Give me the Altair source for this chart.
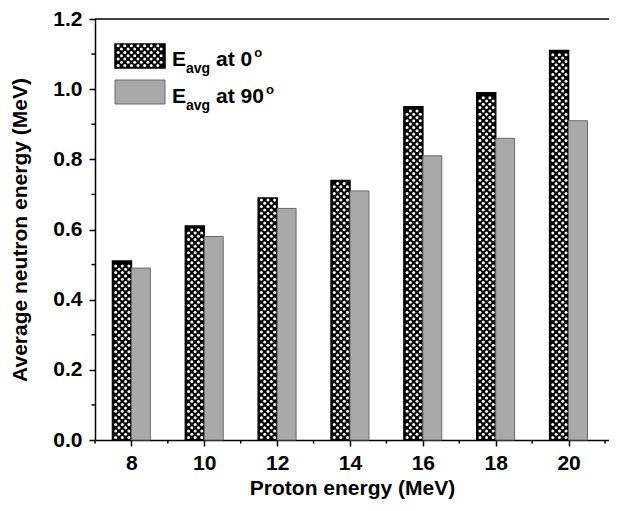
import altair as alt
import numpy as np
import pandas as pd

# ---- data ----
energies = [8, 10, 12, 14, 16, 18, 20]
eavg_0 = [0.51, 0.61, 0.69, 0.74, 0.95, 0.99, 1.11]
eavg_90 = [0.49, 0.58, 0.66, 0.71, 0.81, 0.86, 0.91]
x_major_ticks = [8, 10, 12, 14, 16, 18, 20]
x_minor_ticks = [7, 9, 11, 13, 15, 17, 19, 21]
y_major_ticks = [0.0, 0.2, 0.4, 0.6, 0.8, 1.0, 1.2]
y_minor_ticks = [0.1, 0.3, 0.5, 0.7, 0.9, 1.1]
legend_labels = ["0", "90"]

# ---- layout ----
X_DOMAIN = [7.0, 21.11]
Y_DOMAIN = [0.0, 1.2]
W, H = 514, 421
PX_X = W / (X_DOMAIN[1] - X_DOMAIN[0])
PX_Y = H / (Y_DOMAIN[1] - Y_DOMAIN[0])
BAR_W = 0.52
FONT = "Liberation Sans"

bars0 = pd.DataFrame({"e": energies, "v": eavg_0})
bars0["x0"] = bars0["e"] - BAR_W
bars0["x1"] = bars0["e"]
bars0["y0"] = 0.0
bars90 = pd.DataFrame({"e": energies, "v": eavg_90})
bars90["x0"] = bars90["e"]
bars90["x1"] = bars90["e"] + BAR_W
bars90["y0"] = 0.0


def hatch_holes(x0, x1, y0, y1):
    """White holes of a cross-hatch texture inside a rectangle (data units)."""
    px_step_x, px_step_y = 6.6, 3.3
    wpx = (x1 - x0) * PX_X
    hpx = (y1 - y0) * PX_Y
    xs, ys = [], []
    row = 0
    ypx = 2.4
    while ypx < hpx - 1.8:
        start = 3.2 if row % 2 == 0 else 6.5
        xpx = start
        while xpx < wpx - 1.8:
            xs.append(x0 + xpx / PX_X)
            ys.append(y0 + ypx / PX_Y)
            xpx += px_step_x
        ypx += px_step_y
        row += 1
    return xs, ys


def lx(px):
    return X_DOMAIN[0] + px / PX_X


def ly(py):
    return Y_DOMAIN[1] - py / PX_Y


leg0 = pd.DataFrame({"x0": [lx(20)], "x1": [lx(70)], "y0": [ly(49)], "v": [ly(25)]})
leg90 = pd.DataFrame({"x0": [lx(20)], "x1": [lx(70)], "y0": [ly(85)], "v": [ly(61)]})

hx, hy = [], []
for df in (bars0, leg0):
    for _, r in df.iterrows():
        xs, ys = hatch_holes(r["x0"], r["x1"], r["y0"], r["v"])
        hx += xs
        hy += ys
holes = pd.DataFrame({"hx": hx, "hy": hy})

xscale = alt.Scale(domain=X_DOMAIN, nice=False, zero=False)
yscale = alt.Scale(domain=Y_DOMAIN, nice=False, zero=False)

x_axis = alt.Axis(
    values=x_major_ticks,
    format="d",
    tickSize=6,
    title="Proton energy (MeV)",
    labelFlush=False,
    labelOverlap=False,
    labelPadding=6,
    titlePadding=4,
)
y_axis = alt.Axis(
    values=y_major_ticks,
    format=".1f",
    tickSize=6,
    title="Average neutron energy (MeV)",
    labelFlush=False,
    labelOverlap=False,
    labelPadding=7,
    titlePadding=22,
)

black_bars = alt.Chart(bars0).mark_rect(fill="black", stroke="black", strokeWidth=1.5).encode(
    x=alt.X("x0:Q", scale=xscale, axis=x_axis), x2="x1:Q",
    y=alt.Y("v:Q", scale=yscale, axis=y_axis), y2="y0:Q",
)
gray_bars = alt.Chart(bars90).mark_rect(fill="#a9a9a9", stroke="#6a6a6a", strokeWidth=1).encode(
    x=alt.X("x0:Q", scale=xscale), x2="x1:Q", y=alt.Y("v:Q", scale=yscale), y2="y0:Q"
)
leg_black = alt.Chart(leg0).mark_rect(fill="black", stroke="black", strokeWidth=1.5).encode(
    x=alt.X("x0:Q", scale=xscale), x2="x1:Q", y=alt.Y("v:Q", scale=yscale), y2="y0:Q"
)
leg_gray = alt.Chart(leg90).mark_rect(fill="#a9a9a9", stroke="#6a6a6a", strokeWidth=1).encode(
    x=alt.X("x0:Q", scale=xscale), x2="x1:Q", y=alt.Y("v:Q", scale=yscale), y2="y0:Q"
)
hole_pts = alt.Chart(holes).mark_point(
    shape="circle", filled=True, fill="white", opacity=1, size=9, strokeWidth=0
).encode(x=alt.X("hx:Q", scale=xscale), y=alt.Y("hy:Q", scale=yscale))

top_line = alt.Chart(pd.DataFrame({"t": [Y_DOMAIN[1]]})).mark_rule(color="black", strokeWidth=1.5).encode(
    y=alt.Y("t:Q", scale=yscale)
)

x_minor = alt.Chart(pd.DataFrame({"m": x_minor_ticks})).mark_rule(color="black", strokeWidth=1.5).encode(
    x=alt.X("m:Q", scale=xscale), y=alt.value(H), y2=alt.value(H + 3.5)
)
y_minor = alt.Chart(pd.DataFrame({"m": y_minor_ticks})).mark_rule(color="black", strokeWidth=1.5).encode(
    y=alt.Y("m:Q", scale=yscale), x=alt.value(0), x2=alt.value(-3.5)
)


def txt(s, x, y, size):
    return alt.Chart(pd.DataFrame({"s": [s]})).mark_text(
        font=FONT, fontWeight="bold", fontSize=size, align="left", baseline="alphabetic", color="black"
    ).encode(text="s:N", x=alt.value(x), y=alt.value(y))


legend_texts = []
for i, lab in enumerate(legend_labels):
    dy = i * 36.5
    legend_texts.append(txt("E", 77, 47 + dy, 21))
    legend_texts.append(txt("avg", 91, 54 + dy, 14))
    legend_texts.append(txt("at " + lab, 121, 47 + dy, 21))
    sup_x = 121 + (36.2 if lab == "0" else 48.0) + 2
    legend_texts.append(txt("o", sup_x, 38 + dy, 13))

chart = alt.layer(
    black_bars, gray_bars, leg_black, leg_gray, hole_pts, top_line, x_minor, y_minor, *legend_texts
).properties(
    width=W,
    height=H,
    autosize=alt.AutoSizeParams(type="none"),
    padding={"left": 87, "top": 11, "right": 0, "bottom": 60},
).configure_view(stroke=None).configure_axis(
    grid=False,
    domainColor="black",
    domainWidth=1.5,
    tickColor="black",
    tickWidth=1.5,
    labelFont=FONT,
    labelFontSize=21,
    labelFontWeight="bold",
    labelColor="black",
    titleFont=FONT,
    titleFontSize=21,
    titleFontWeight="bold",
    titleColor="black",
)

chart.save("out.html", embed_options={"renderer": "svg", "actions": False})
